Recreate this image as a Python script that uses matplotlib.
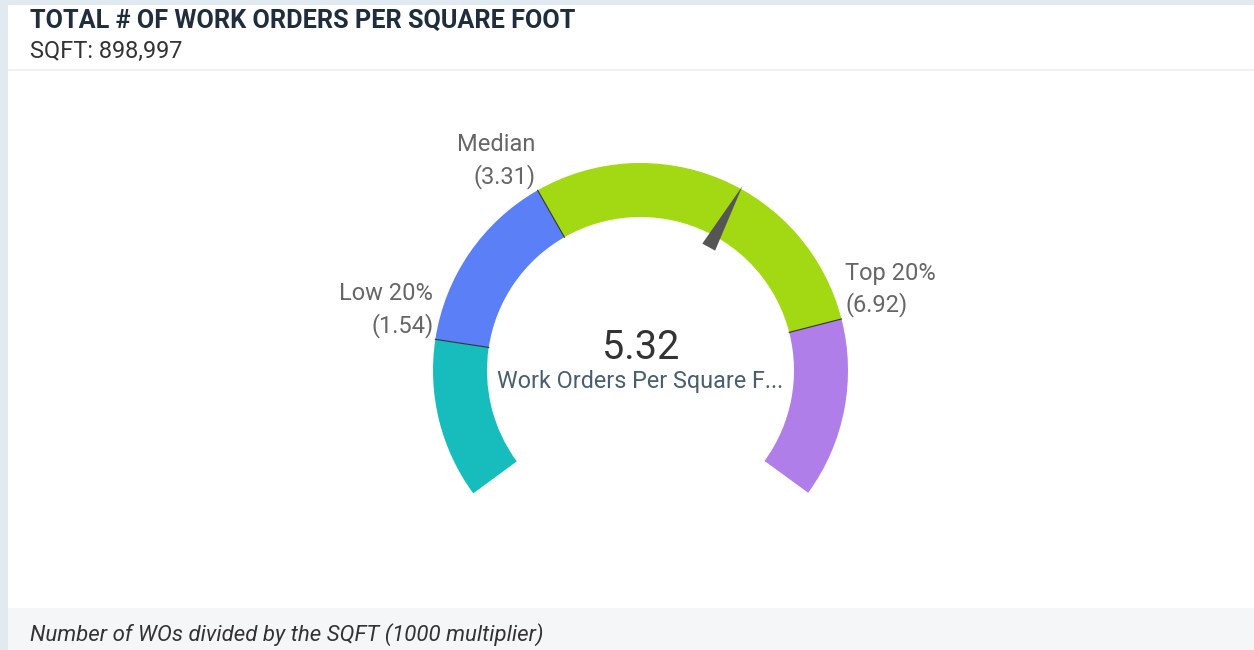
import numpy as np
import matplotlib.pyplot as plt
from matplotlib.patches import Wedge, Polygon, Rectangle

plt.rcParams['font.family'] = ['Roboto', 'DejaVu Sans']

title = 'TOTAL # OF WORK ORDERS PER SQUARE FOOT'
subtitle = 'SQFT: 898,997'
footnote = 'Number of WOs divided by the SQFT (1000 multiplier)'
metric_name = 'Work Orders Per Square F...'

gauge_min = 0
gauge_max = 8.65
value = 5.32
band_labels = ['Low 20%', 'Median', 'Top 20%']
band_values = [1.54, 3.31, 6.92]
band_colors = ['#17bdbd', '#5b7ff7', '#a3d912', '#b07ee9']

W, H = 1254, 650
fig = plt.figure(figsize=(W / 100, H / 100), dpi=100)
ax = fig.add_axes([0, 0, 1, 1])
ax.set_xlim(0, W)
ax.set_ylim(0, H)
ax.axis('off')

# panel frame
ax.add_patch(Rectangle((0, 0), 8, H, fc='#e1eaf0', ec='none'))
ax.add_patch(Rectangle((0, H - 5), W, 5, fc='#e1eaf0', ec='none'))
ax.add_patch(Rectangle((8, 0), W - 8, 42, fc='#f4f6f7', ec='none'))
ax.plot([8, W], [580, 580], color='#eeeeee', lw=1.2)

ax.text(30, 622, title, fontsize=18.2, fontweight='bold', color='#1f2d3d')
ax.text(30, 592, subtitle, fontsize=16.9, color='#333333')
ax.text(30, 9, footnote, fontsize=16, style='italic', color='#333333')

# gauge
cx, cy = 640.5, 279.5
R, ring = 207.5, 54
start_ang, end_ang = 216.3, -36.1


def to_angle(v):
    return start_ang - (v - gauge_min) / (gauge_max - gauge_min) * (start_ang - end_ang)


edges = [gauge_min] + band_values + [gauge_max]
for i in range(len(edges) - 1):
    ax.add_patch(Wedge((cx, cy), R, to_angle(edges[i + 1]), to_angle(edges[i]),
                       width=ring, fc=band_colors[i], ec='none'))

for lab, v in zip(band_labels, band_values):
    a = np.radians(to_angle(v))
    ax.plot([cx + (R - ring) * np.cos(a), cx + R * np.cos(a)],
            [cy + (R - ring) * np.sin(a), cy + R * np.sin(a)], color='#333333', lw=0.8)
    px, py = cx + R * np.cos(a), cy + R * np.sin(a)
    if np.cos(a) < 0:
        ha, dx = 'right', -2
    else:
        ha, dx = 'left', 4
    ax.text(px + dx, py + 39, lab, ha=ha, va='baseline', fontsize=17, color='#666666')
    ax.text(px + dx, py + 7.3, '(%.2f)' % v, ha=ha, va='baseline', fontsize=17, color='#666666')

a = np.radians(to_angle(value))
u = np.array([np.cos(a), np.sin(a)])
n = np.array([-np.sin(a), np.cos(a)])
c = np.array([cx, cy])
needle = [c + 211 * u, c + 141 * u + 7.3 * n, c + 141 * u - 7.3 * n]
ax.add_patch(Polygon(needle, closed=True, fc='#555555', ec='none'))

ax.text(cx, 291, '%.2f' % value, ha='center', va='baseline', fontsize=28.5, color='#333333')
ax.text(cx, 262, metric_name, ha='center', va='baseline', fontsize=16.8, color='#4b5e70')

fig.savefig('out.png', dpi=100)
